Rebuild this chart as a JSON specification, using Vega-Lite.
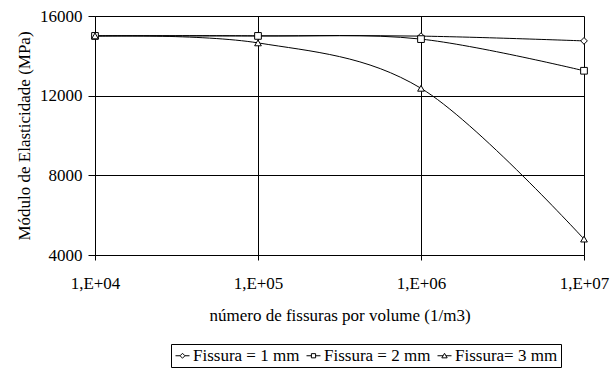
{
  "$schema": "https://vega.github.io/schema/vega-lite/v6.json",
  "width": 489,
  "height": 239,
  "autosize": {"type": "none"},
  "padding": {"left": 95, "top": 16, "right": 28, "bottom": 116},
  "background": "white",
  "config": {
    "font": "Liberation Serif, serif",
    "view": {"stroke": null},
    "axis": {
      "labelColor": "black",
      "titleColor": "black",
      "domainColor": "black",
      "tickColor": "black",
      "gridColor": "black",
      "gridOpacity": 1,
      "labelFontSize": 17,
      "titleFontSize": 17,
      "titleFontWeight": "normal",
      "labelFont": "Liberation Serif, serif",
      "titleFont": "Liberation Serif, serif"
    }
  },
  "data": {
    "values": [
      {"serie": "Fissura = 1 mm", "n": 10000, "E": 15000},
      {"serie": "Fissura = 1 mm", "n": 100000, "E": 15000},
      {"serie": "Fissura = 1 mm", "n": 1000000, "E": 14990},
      {"serie": "Fissura = 1 mm", "n": 10000000, "E": 14750},
      {"serie": "Fissura = 2 mm", "n": 10000, "E": 15000},
      {"serie": "Fissura = 2 mm", "n": 100000, "E": 15000},
      {"serie": "Fissura = 2 mm", "n": 1000000, "E": 14840},
      {"serie": "Fissura = 2 mm", "n": 10000000, "E": 13250},
      {"serie": "Fissura= 3 mm", "n": 10000, "E": 15000},
      {"serie": "Fissura= 3 mm", "n": 100000, "E": 14650},
      {"serie": "Fissura= 3 mm", "n": 1000000, "E": 12370},
      {"serie": "Fissura= 3 mm", "n": 10000000, "E": 4800}
    ]
  },
  "encoding": {
    "x": {
      "field": "n",
      "type": "quantitative",
      "scale": {"type": "log", "domain": [10000, 10000000]},
      "axis": {
        "values": [10000, 100000, 1000000, 10000000],
        "labelExpr": "'1,E+0' + round(log(datum.value)/LN10)",
        "tickSize": 5,
        "labelPadding": 15,
        "labelFlush": false,
        "labelOverlap": false,
        "grid": true,
        "title": "número de fissuras por volume (1/m3)",
        "titleY": 65,
        "titleBaseline": "alphabetic"
      }
    },
    "y": {
      "field": "E",
      "type": "quantitative",
      "scale": {"domain": [4000, 16000]},
      "axis": {
        "values": [4000, 8000, 12000, 16000],
        "format": "d",
        "tickSize": 7,
        "labelPadding": 6,
        "grid": true,
        "title": "Módulo de Elasticidade (MPa)",
        "titleX": -66,
        "titleY": 119.5,
        "titleAngle": -90,
        "titleAlign": "center",
        "titleBaseline": "alphabetic"
      }
    }
  },
  "layer": [
    {
      "mark": {"type": "line", "interpolate": "cardinal", "tension": 0, "color": "black", "strokeWidth": 1},
      "encoding": {"detail": {"field": "serie"}}
    },
    {
      "mark": {"type": "point", "filled": true, "fill": "white", "stroke": "black", "strokeWidth": 1, "opacity": 1},
      "encoding": {
        "shape": {
          "field": "serie",
          "type": "nominal",
          "scale": {"domain": ["Fissura = 1 mm", "Fissura = 2 mm", "Fissura= 3 mm"], "range": ["diamond", "square", "triangle-up"]},
          "legend": null
        },
        "size": {"value": 45}
      }
    },
    {
      "transform": [{"filter": "datum.n < 0"}],
      "mark": {"type": "point", "filled": false, "stroke": "black", "strokeWidth": 1, "opacity": 1},
      "encoding": {
        "shape": {
          "field": "serie",
          "type": "nominal",
          "scale": {
            "domain": ["Fissura = 1 mm", "Fissura = 2 mm", "Fissura= 3 mm"],
            "range": [
              "M-1,0H-0.35M0.35,0H1M0,-0.35L0.35,0L0,0.35L-0.35,0Z",
              "M-1,0H-0.3M0.3,0H1M-0.3,-0.3H0.3V0.3H-0.3Z",
              "M-1,0H-0.2M0.2,0H1M0,-0.35L0.38,0.3H-0.38Z"
            ]
          },
          "legend": {
            "title": null,
            "orient": "none",
            "legendX": 76,
            "legendY": 328,
            "direction": "horizontal",
            "symbolSize": 196,
            "symbolStrokeWidth": 1,
            "symbolStrokeColor": "black",
            "symbolOpacity": 1,
            "labelFont": "Liberation Serif, serif",
            "labelFontSize": 17,
            "labelColor": "black",
            "labelOffset": 2,
            "labelLimit": 300,
            "columnPadding": 4,
            "padding": 3,
            "strokeColor": "black",
            "fillColor": "white"
          }
        }
      }
    }
  ],
  "resolve": {"scale": {"shape": "independent"}, "legend": {"shape": "independent"}}
}
